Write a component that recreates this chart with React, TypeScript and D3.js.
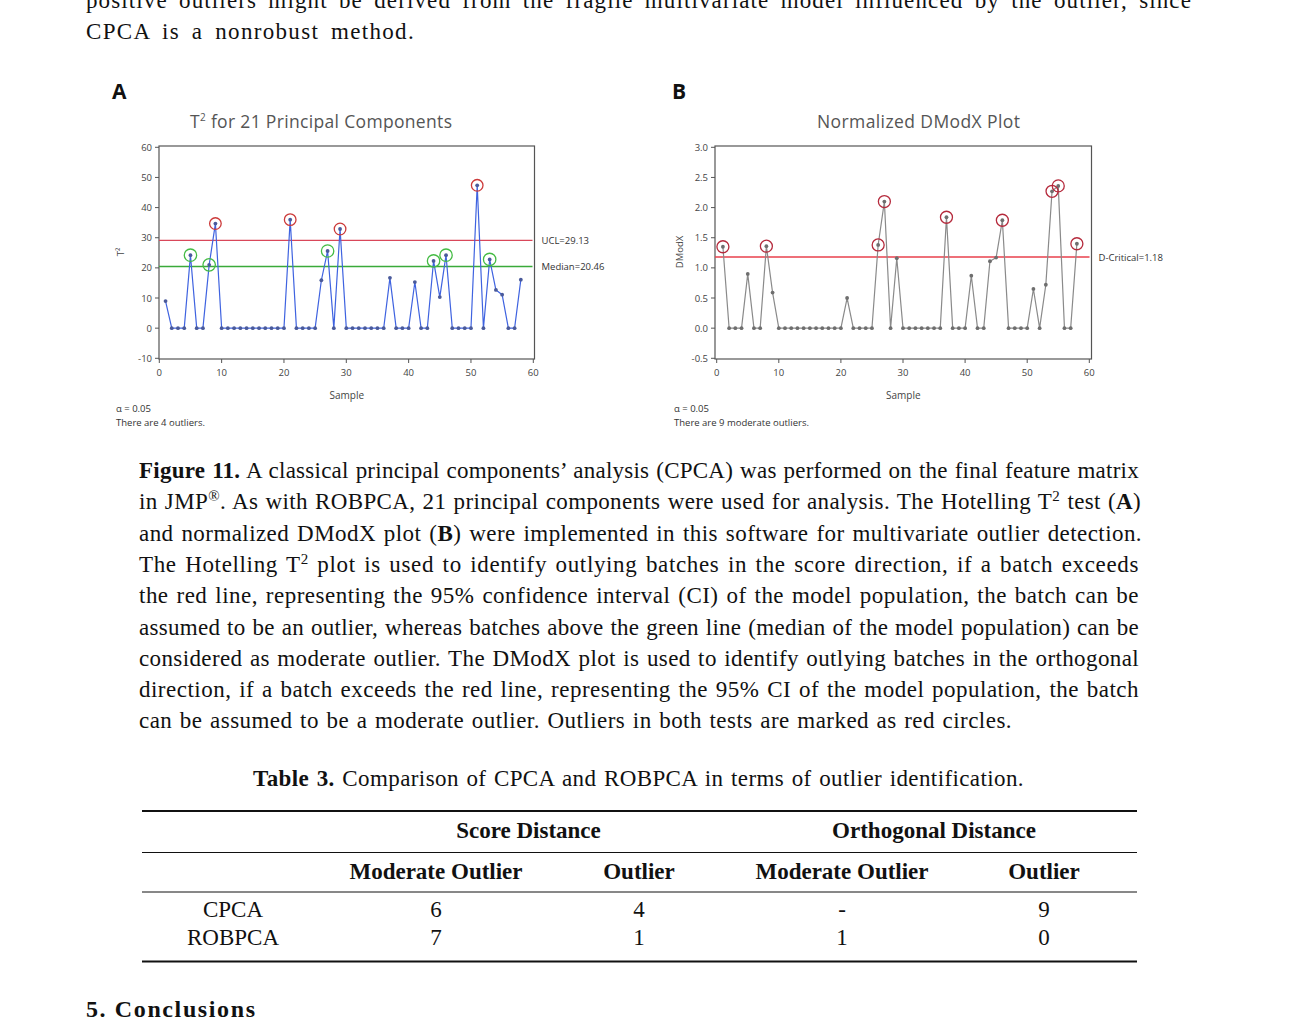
import React, { useLayoutEffect, useRef } from "react";
import * as d3 from "d3";

// ---------- DATA ----------
const t2Values = [
  9.0, 0, 0, 0, 24.2, 0, 0, 21.0, 34.7, 0,
  0, 0, 0, 0, 0, 0, 0, 0, 0, 0,
  36.0, 0, 0, 0, 0, 15.9, 25.6, 0, 32.9, 0,
  0, 0, 0, 0, 0, 0, 16.7, 0, 0, 0,
  15.3, 0, 0, 22.3, 10.3, 24.2, 0, 0, 0, 0,
  47.4, 0, 22.8, 12.7, 11.1, 0, 0, 16.1,
];
const t2OutlierSamples = [9, 21, 29, 51];
const t2ModerateSamples = [5, 8, 27, 44, 46, 53];
const t2UCL = 29.13;
const t2Median = 20.46;
const t2YTicks = [-10, 0, 10, 20, 30, 40, 50, 60];

const dmodxValues = [
  1.35, 0, 0, 0, 0.9, 0, 0, 1.36, 0.59, 0,
  0, 0, 0, 0, 0, 0, 0, 0, 0, 0,
  0.5, 0, 0, 0, 0, 1.38, 2.1, 0, 1.16, 0,
  0, 0, 0, 0, 0, 0, 1.84, 0, 0, 0,
  0.87, 0, 0, 1.11, 1.17, 1.79, 0, 0, 0, 0,
  0.65, 0, 0.72, 2.27, 2.36, 0, 0, 1.4,
];
const dmodxOutlierSamples = [1, 8, 26, 27, 37, 46, 54, 55, 58];
const dCritical = 1.18;
const dmodxYTicks = [-0.5, 0, 0.5, 1, 1.5, 2, 2.5, 3];
const xTicks = [0, 10, 20, 30, 40, 50, 60];

const tableRows = ["CPCA", "ROBPCA"];
const tableGroups = ["Score Distance", "Orthogonal Distance"];
const tableCols = ["Moderate Outlier", "Outlier", "Moderate Outlier", "Outlier"];
const tableValues = [
  ["6", "4", "-", "9"],
  ["7", "1", "1", "0"],
];

const SERIF = "'Liberation Serif', 'Times New Roman', serif";
const SANS = "'Open Sans', 'Noto Sans', sans-serif";

type ChartProps = {
  left: number; right: number; top: number; bottom: number;
  xRange: [number, number]; yDomain: [number, number]; yRange: [number, number];
  values: number[]; yTicks: number[]; fmt: (v: number) => string;
  lineColor: string; dotColor: string;
  title: string; titleX: number; titleLen: number; titleSup?: boolean;
  yLabel: string; yLabelX: number;
  refLines: { v: number; color: string; label: string }[];
  circles: { samples: number[]; color: string; r: number }[];
  note1: string; note2: string; noteX: number;
};

function Chart(p: ChartProps) {
  const x = d3.scaleLinear().domain([0, 60]).range(p.xRange);
  const y = d3.scaleLinear().domain(p.yDomain).range(p.yRange);
  const pts = p.values.map((v, i) => [x(i + 1), y(v)] as [number, number]);
  const line = d3.line()(pts) || "";
  const axisColor = "#555";
  return (
    <g fontFamily={SANS}>
      {p.titleSup ? (
        <text x={p.titleX} y={128} fontSize={17.5} fill="#555" textLength={p.titleLen} lengthAdjust="spacing">
          T<tspan baselineShift="super" fontSize={10}>2</tspan> for 21 Principal Components
        </text>
      ) : (
        <text x={p.titleX} y={128} fontSize={17.5} fill="#555" textLength={p.titleLen} lengthAdjust="spacing">{p.title}</text>
      )}
      <rect x={p.left} y={p.top} width={p.right - p.left} height={p.bottom - p.top} fill="white" stroke={axisColor} strokeWidth={1.2} />
      {p.yTicks.map((t) => (
        <g key={"y" + t}>
          <line x1={p.left - 4} x2={p.left} y1={y(t)} y2={y(t)} stroke={axisColor} />
          <text x={p.left - 7} y={y(t) + 3.5} fontSize={9.5} textAnchor="end" fill="#444">{p.fmt(t)}</text>
        </g>
      ))}
      {xTicks.map((t) => (
        <g key={"x" + t}>
          <line x1={x(t)} x2={x(t)} y1={p.bottom} y2={p.bottom + 4} stroke={axisColor} />
          <text x={x(t)} y={p.bottom + 17} fontSize={9.5} textAnchor="middle" fill="#444">{t}</text>
        </g>
      ))}
      <text x={(p.left + p.right) / 2} y={399} fontSize={10} textAnchor="middle" fill="#444">Sample</text>
      <text transform={`translate(${p.yLabelX},252) rotate(-90)`} fontSize={9.5} textAnchor="middle" fill="#444">{p.yLabel}</text>
      {p.refLines.map((r) => (
        <g key={r.label}>
          <line x1={p.left} x2={p.right - 2} y1={y(r.v)} y2={y(r.v)} stroke={r.color} strokeWidth={1.3} />
          <text x={p.right + 7} y={y(r.v) + 3.5} fontSize={9.5} fill="#333">{r.label}</text>
        </g>
      ))}
      <path d={line} fill="none" stroke={p.lineColor} strokeWidth={1.2} />
      {pts.map((pt, i) => (
        <circle key={i} cx={pt[0]} cy={pt[1]} r={1.9} fill={p.dotColor} />
      ))}
      {p.circles.map((c, k) =>
        c.samples.map((s) => (
          <circle key={k + "-" + s} cx={x(s)} cy={y(p.values[s - 1])} r={c.r} fill="none" stroke={c.color} strokeWidth={1.3} />
        ))
      )}
      <text x={p.noteX} y={412} fontSize={9.5} fill="#333">{p.note1}</text>
      <text x={p.noteX} y={426} fontSize={9.5} fill="#333">{p.note2}</text>
    </g>
  );
}

function JLine({ x, y, w, children, size = 23, letterShare = 0.65 }: { x: number; y: number; w: number; children: React.ReactNode; size?: number; letterShare?: number }) {
  const ref = useRef<SVGTextElement>(null);
  useLayoutEffect(() => {
    const fit = () => {
      const el = ref.current;
      if (!el) return;
      el.style.wordSpacing = "0px";
      el.style.letterSpacing = "0px";
      const nat = el.getComputedTextLength();
      const txt = el.textContent || "";
      const nChars = txt.length;
      const spaces = (txt.match(/ /g) || []).length;
      const extra = w - nat;
      el.style.letterSpacing = (letterShare * extra) / nChars + "px";
      const nat2 = el.getComputedTextLength();
      if (spaces) el.style.wordSpacing = (w - nat2) / spaces + "px";
    };
    fit();
    if ((document as any).fonts && (document as any).fonts.ready) (document as any).fonts.ready.then(fit);
  }, [w]);
  return (
    <text ref={ref} x={x} y={y} fontSize={size} fontFamily={SERIF} fill="#111">
      {children}
    </text>
  );
}

const sup = (s: string) => <tspan baselineShift="super" fontSize={15}>{s}</tspan>;

export default function App() {
  const capX = 139;
  const capW = 1000;
  const capY0 = 478;
  const lh = 31.3;
  const colX = [436, 639, 842, 1044];
  return (
    <svg width={1290} height={1020} style={{ position: "absolute", left: 0, top: 0, background: "white" }}>
      <rect width={1290} height={1020} fill="white" />
      <JLine x={86} y={8} w={1106}>positive outliers might be derived from the fragile multivariate model influenced by the outlier, since</JLine>
      <JLine x={86} y={39} w={329}>CPCA is a nonrobust method.</JLine>

      <text x={112} y={99} fontSize={21} fontWeight="bold" fontFamily={SANS} fill="#111">A</text>
      <text x={672} y={99} fontSize={21} fontWeight="bold" fontFamily={SANS} fill="#111">B</text>

      <Chart left={159} right={534.5} top={146} bottom={359} xRange={[159.3, 533.3]} yDomain={[-10, 60]} yRange={[358.3, 147.3]}
        values={t2Values} yTicks={t2YTicks} fmt={(v) => String(v)} lineColor="#3f63e0" dotColor="#4a5a9a"
        title="T² for 21 Principal Components" titleX={190} titleLen={262} titleSup
        yLabel="T²" yLabelX={124}
        refLines={[{ v: t2UCL, color: "#d9475a", label: "UCL=29.13" }, { v: t2Median, color: "#3aaa3a", label: "Median=20.46" }]}
        circles={[{ samples: t2OutlierSamples, color: "#cc3a3a", r: 5.8 }, { samples: t2ModerateSamples, color: "#44bb44", r: 6.2 }]}
        note1="α = 0.05" note2="There are 4 outliers." noteX={116} />

      <Chart left={715} right={1091.5} top={146} bottom={359} xRange={[716.7, 1089.3]} yDomain={[-0.5, 3]} yRange={[358.3, 147.3]}
        values={dmodxValues} yTicks={dmodxYTicks} fmt={(v) => v.toFixed(1)} lineColor="#8a8a8a" dotColor="#6e6e6e"
        title="Normalized DModX Plot" titleX={817} titleLen={203}
        yLabel="DModX" yLabelX={683}
        refLines={[{ v: dCritical, color: "#e8404c", label: "D-Critical=1.18" }]}
        circles={[{ samples: dmodxOutlierSamples, color: "#b52a3c", r: 6 }]}
        note1="α = 0.05" note2="There are 9 moderate outliers." noteX={674} />

      {/* Caption */}
      <JLine x={capX} y={capY0} w={capW}><tspan fontWeight="bold">Figure 11.</tspan> A classical principal components’ analysis (CPCA) was performed on the final feature matrix</JLine>
      <JLine x={capX} y={capY0 + lh} w={1002}>in JMP{sup("®")}. As with ROBPCA, 21 principal components were used for analysis. The Hotelling T{sup("2")} test (<tspan fontWeight="bold">A</tspan>)</JLine>
      <JLine x={capX} y={capY0 + lh * 2} w={1003}>and normalized DModX plot (<tspan fontWeight="bold">B</tspan>) were implemented in this software for multivariate outlier detection.</JLine>
      <JLine x={capX} y={capY0 + lh * 3} w={capW}>The Hotelling T{sup("2")} plot is used to identify outlying batches in the score direction, if a batch exceeds</JLine>
      <JLine x={capX} y={capY0 + lh * 4} w={capW}>the red line, representing the 95% confidence interval (CI) of the model population, the batch can be</JLine>
      <JLine x={capX} y={capY0 + lh * 5} w={capW}>assumed to be an outlier, whereas batches above the green line (median of the model population) can be</JLine>
      <JLine x={capX} y={capY0 + lh * 6} w={capW}>considered as moderate outlier. The DModX plot is used to identify outlying batches in the orthogonal</JLine>
      <JLine x={capX} y={capY0 + lh * 7} w={capW}>direction, if a batch exceeds the red line, representing the 95% CI of the model population, the batch</JLine>
      <JLine x={capX} y={capY0 + lh * 8} w={873}>can be assumed to be a moderate outlier. Outliers in both tests are marked as red circles.</JLine>

      {/* Table */}
      <JLine x={253} y={786} w={771}><tspan fontWeight="bold">Table 3.</tspan> Comparison of CPCA and ROBPCA in terms of outlier identification.</JLine>
      <line x1={142} x2={1137} y1={811} y2={811} stroke="#111" strokeWidth={2} />
      <line x1={142} x2={1137} y1={852.5} y2={852.5} stroke="#111" strokeWidth={1} />
      <line x1={142} x2={1137} y1={892} y2={892} stroke="#111" strokeWidth={1} />
      <line x1={142} x2={1137} y1={961.5} y2={961.5} stroke="#111" strokeWidth={2} />
      {tableGroups.map((g, i) => (
        <text key={g} x={(colX[i * 2] + colX[i * 2 + 1]) / 2 - 9} y={838} fontSize={23} fontWeight="bold" fontFamily={SERIF} textAnchor="middle" fill="#111">{g}</text>
      ))}
      {tableCols.map((c, i) => (
        <text key={i} x={colX[i]} y={879} fontSize={23} fontWeight="bold" fontFamily={SERIF} textAnchor="middle" fill="#111">{c}</text>
      ))}
      {tableRows.map((r, ri) => (
        <g key={r}>
          <text x={233} y={917 + ri * 28} fontSize={23} fontFamily={SERIF} textAnchor="middle" fill="#111">{r}</text>
          {tableValues[ri].map((v, ci) => (
            <text key={ci} x={colX[ci]} y={917 + ri * 28} fontSize={23} fontFamily={SERIF} textAnchor="middle" fill="#111">{v}</text>
          ))}
        </g>
      ))}
      <text x={86} y={1017} fontSize={24} fontWeight="bold" fontFamily={SERIF} fill="#111" textLength={169} lengthAdjust="spacing">5. Conclusions</text>
    </svg>
  );
}
